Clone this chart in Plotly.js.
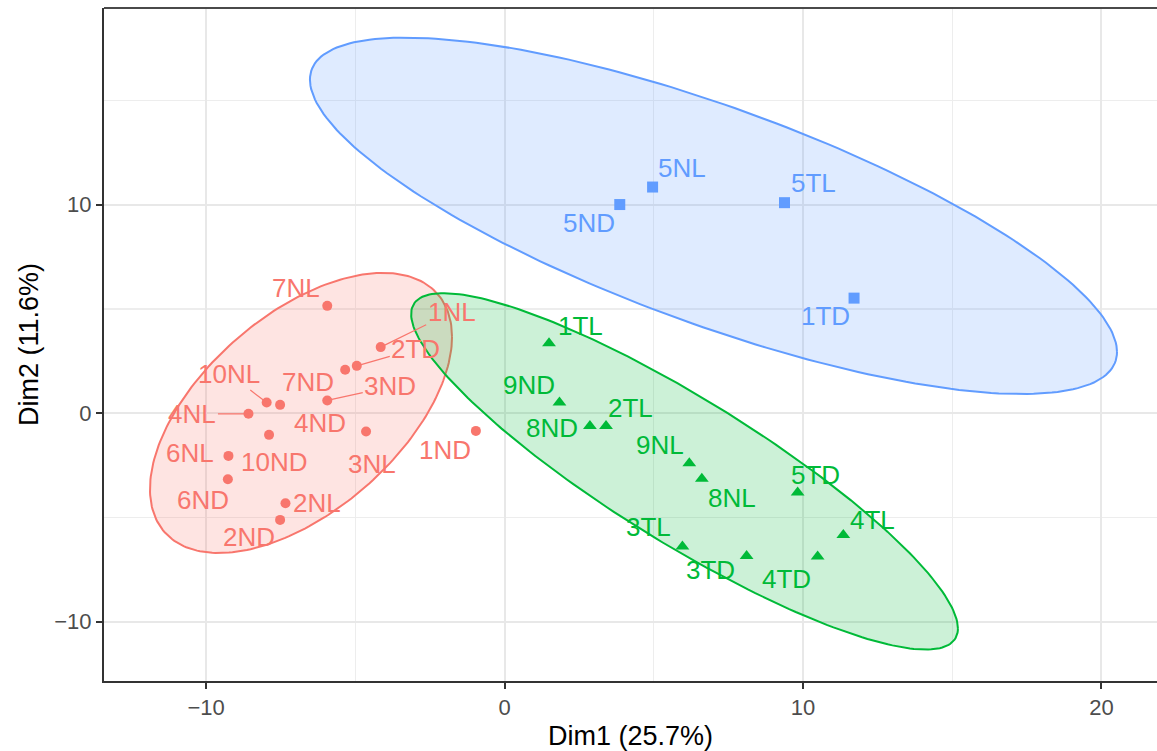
<!DOCTYPE html>
<html>
<head>
<meta charset="utf-8">
<script src="https://cdn.plot.ly/plotly-3.0.1.min.js"></script>
<style>
html,body{margin:0;padding:0;background:#ffffff;}
#chart{width:1157px;height:751px;}
</style>
</head>
<body>
<div id="chart"></div>
<script>
// ---- Data ----
const groupColors = ['#F8766D', '#00BA38', '#619CFF'];
const groupSymbols = ['circle', 'triangle-up', 'square'];

// Group 1 (red, circles)
const g1Labels = ['7NL','1NL','2TD','7ND','3ND','10NL','4ND','4NL','10ND','3NL','6NL','6ND','2NL','2ND','1ND'];
const g1Dim1 = [-5.94,-4.15,-4.95,-5.34,-5.94,-7.97,-7.52,-8.58,-7.89,-4.64,-9.25,-9.27,-7.34,-7.52,-0.96];
const g1Dim2 = [5.15,3.17,2.27,2.08,0.61,0.51,0.40,-0.03,-1.04,-0.88,-2.05,-3.17,-4.32,-5.12,-0.85];

// Group 2 (green, triangles)
const g2Labels = ['1TL','9ND','8ND','2TL','9NL','8NL','3TL','3TD','5TD','4TL','4TD'];
const g2Dim1 = [1.49,1.84,2.86,3.40,6.19,6.61,5.96,8.11,9.82,11.35,10.49];
const g2Dim2 = [3.36,0.51,-0.61,-0.61,-2.40,-3.15,-6.40,-6.85,-3.81,-5.84,-6.88];

// Group 3 (blue, squares)
const g3Labels = ['5NL','5ND','5TL','1TD'];
const g3Dim1 = [4.96,3.86,9.38,11.71];
const g3Dim2 = [10.85,10.01,10.10,5.52];

// Ellipse geometry per group (centre, half-width, half-height, y-shift at the widest point)
const ellCenterX = [-6.82, 6.03, 7.00];
const ellCenterY = [0.01, -2.79, 9.47];
const ellHalfW = [5.06, 9.16, 13.52];
const ellHalfH = [6.72, 8.55, 8.55];
const ellTilt = [3.65, -7.54, -6.53];

// ---- Label placement (pixel offsets of label centre from its point; true = draw a segment) ----
const labelOffsets = {
  '7NL':[-31,-18,false], '1NL':[71,-35,true], '2TD':[59,-17,true], '7ND':[-37,12,false],
  '3ND':[63,-14,true], '10NL':[-38,-29,true], '4ND':[40,18,false], '4NL':[-56,0,true],
  '10ND':[5,27,false], '3NL':[6,32,false], '6NL':[-38,-3,false], '6ND':[-25,21,false],
  '2NL':[32,0,false], '2ND':[-31,17,false], '1ND':[-31,19,false],
  '1TL':[31,-17,false], '9ND':[-30,-18,false], '8ND':[-38,2,false], '2TL':[24,-18,false],
  '9NL':[-29,-18,false], '8NL':[30,19,false], '3TL':[-34,-20,false], '3TD':[-36,14,false],
  '5TD':[18,-18,false], '4TL':[29,-15,false], '4TD':[-31,22,false],
  '5NL':[29,-19,false], '5ND':[-31,18,false], '5TL':[29,-20,false], '1TD':[-29,18,false]
};

const groups = [
  {labels:g1Labels, x:g1Dim1, y:g1Dim2},
  {labels:g2Labels, x:g2Dim1, y:g2Dim2},
  {labels:g3Labels, x:g3Dim1, y:g3Dim2}
];

function hexToRgba(hex, a){
  const n = parseInt(hex.slice(1),16);
  return 'rgba(' + ((n>>16)&255) + ',' + ((n>>8)&255) + ',' + (n&255) + ',' + a + ')';
}

const traces = [];
// Ellipses
for (let g = 0; g < 3; g++) {
  const ex = [], ey = [];
  const cx = ellCenterX[g], cy = ellCenterY[g], W = ellHalfW[g], H = ellHalfH[g], C = ellTilt[g];
  const S = Math.sqrt(H*H - C*C);
  for (let i = 0; i <= 240; i++) {
    const t = 2*Math.PI*i/240;
    ex.push(cx + W*Math.cos(t));
    ey.push(cy + C*Math.cos(t) + S*Math.sin(t));
  }
  traces.push({
    x: ex, y: ey, type:'scatter', mode:'lines', fill:'toself',
    fillcolor: hexToRgba(groupColors[g], 0.2),
    line:{color:groupColors[g], width:2}, hoverinfo:'skip', showlegend:false
  });
}
// Points
const markerSizes = [10, 12, 11];
const annotations = [];
groups.forEach((grp, g) => {
  traces.push({
    x: grp.x, y: grp.y, text: grp.labels, type:'scatter', mode:'markers',
    marker:{symbol:groupSymbols[g], color:groupColors[g], size: markerSizes[g]},
    hoverinfo:'text', showlegend:false
  });
  grp.labels.forEach((lab, i) => {
    const off = labelOffsets[lab] || [0,-20,false];
    const base = {
      x: grp.x[i], y: grp.y[i], xref:'x', yref:'y', text: lab,
      font:{family:'Liberation Sans, Arial, sans-serif', size:26, color:groupColors[g]},
      xanchor:'center', yanchor:'middle'
    };
    if (off[2]) {
      Object.assign(base, {showarrow:true, ax:off[0], ay:off[1], arrowhead:0,
        arrowwidth:1.2, arrowcolor:groupColors[g], standoff:0, startstandoff:0});
    } else {
      Object.assign(base, {showarrow:false, xshift:off[0], yshift:-off[1]});
    }
    annotations.push(base);
  });
});

const axisCommon = {
  showline:true, linecolor:'#333333', linewidth:2,
  ticks:'outside', ticklen:6, tickwidth:2, tickcolor:'#333333',
  tickfont:{family:'Liberation Sans, Arial, sans-serif', size:22, color:'#4D4D4D'},
  showgrid:true, gridcolor:'#E8E8E8', gridwidth:2, zeroline:false,
  minor:{dtick:5, showgrid:true, gridcolor:'#EDEDED', gridwidth:1.3, ticks:''},
  automargin:false
};

const layout = {
  width:1157, height:751,
  margin:{l:104, r:0, t:8, b:70},
  paper_bgcolor:'#ffffff', plot_bgcolor:'#ffffff',
  font:{family:'Liberation Sans, Arial, sans-serif'},
  xaxis: Object.assign({}, axisCommon, {
    range:[-13.42, 21.86], tick0:0, dtick:10,
    title:{text:'Dim1 (25.7%)', font:{size:27, color:'#000000'}, standoff:8}
  }),
  yaxis: Object.assign({}, axisCommon, {
    range:[-12.85, 19.44], tick0:0, dtick:10,
    title:{text:'Dim2 (11.6%)', font:{size:27, color:'#000000'}, standoff:8}
  }),
  shapes:[{type:'line', xref:'paper', yref:'paper', x0:0, x1:1, y0:1, y1:1,
           line:{color:'#4a4a4a', width:2}}],
  annotations: annotations,
  showlegend:false
};

Plotly.newPlot('chart', traces, layout, {displayModeBar:false, staticPlot:true});
</script>
</body>
</html>
